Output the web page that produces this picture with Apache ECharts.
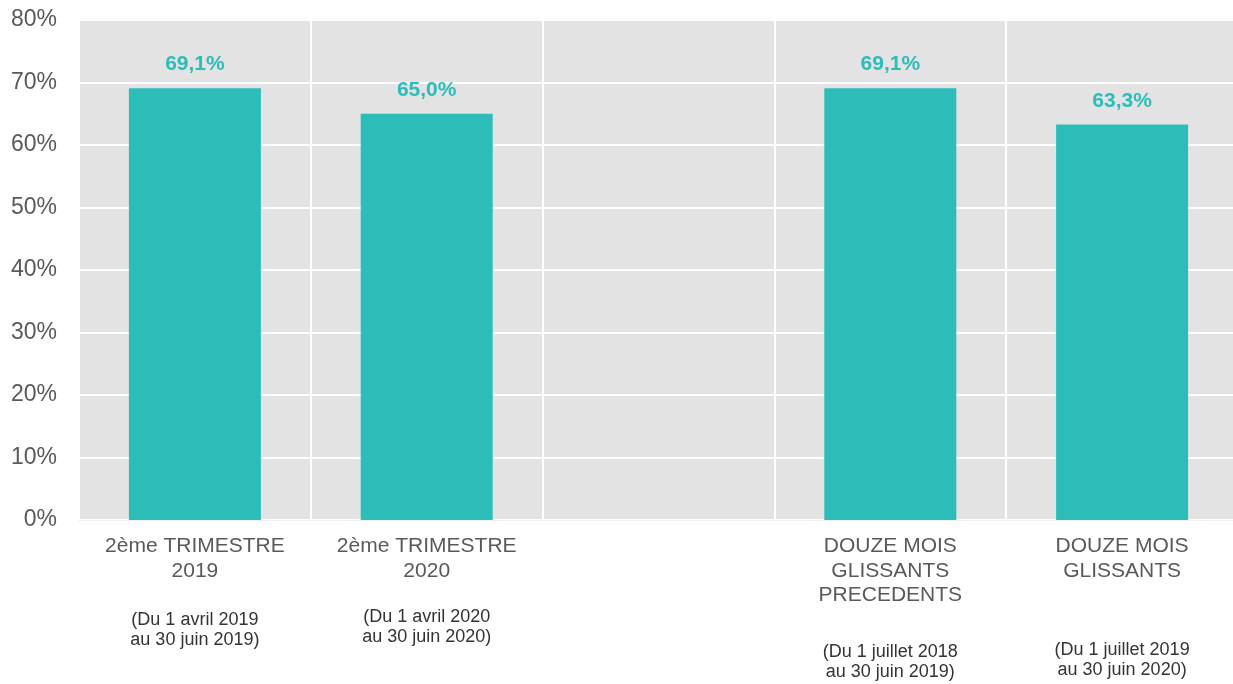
<!DOCTYPE html>
<html>
<head>
<meta charset="utf-8">
<script src="https://cdn.jsdelivr.net/npm/echarts@6/dist/echarts.min.js"></script>
<style>html,body{margin:0;padding:0;background:#fff;overflow:hidden;}#c{width:1233px;height:684px;}</style>
</head>
<body>
<div id="c"></div>
<script>
const categories = ['2ème TRIMESTRE\n2019', '2ème TRIMESTRE\n2020', '', 'DOUZE MOIS\nGLISSANTS\nPRECEDENTS', 'DOUZE MOIS\nGLISSANTS'];
const periods = ['(Du 1 avril 2019\nau 30 juin 2019)', '(Du 1 avril 2020\nau 30 juin 2020)', '', '(Du 1 juillet 2018\nau 30 juin 2019)', '(Du 1 juillet 2019\nau 30 juin 2020)'];
const values = [69.1, 65.0, null, 69.1, 63.3];
const yTicks = [0, 10, 20, 30, 40, 50, 60, 70, 80];

const gapHeights = [27, 24, 0, 35, 57];
const rich = {
  a: {fontSize: 21, lineHeight: 24.5, color: '#595959', fontFamily: 'Liberation Sans'},
  b: {fontSize: 18, lineHeight: 20, color: '#333333', fontFamily: 'Liberation Sans'}
};
gapHeights.forEach((h, i) => { rich['g' + i] = {fontSize: 1, lineHeight: Math.max(h, 1), height: Math.max(h, 1)}; });

const chart = echarts.init(document.getElementById('c'), null, {renderer: 'canvas'});
chart.setOption({
  animation: false,
  grid: {left: 79, width: 1159, top: 20, bottom: 164, show: true, backgroundColor: '#e3e3e3', borderWidth: 0, containLabel: false, outerBoundsMode: 'none'},
  xAxis: {
    type: 'category',
    data: categories,
    axisTick: {show: false},
    axisLine: {show: true, lineStyle: {color: '#eeeeee', width: 1}},
    splitLine: {show: true, interval: 0, lineStyle: {color: '#ffffff', width: 2}},
    axisLabel: {
      interval: 0,
      margin: 14,
      hideOverlap: false,
      formatter: function (v, idx) {
        if (!v) return '';
        const t = v.split('\n').map(s => '{a|' + s + '}').join('\n');
        const p = periods[idx].split('\n').map(s => '{b|' + s + '}').join('\n');
        return t + '\n{g' + idx + '| }\n' + p;
      },
      rich: rich
    }
  },
  yAxis: {
    type: 'value',
    min: yTicks[0],
    max: yTicks[yTicks.length - 1],
    interval: 10,
    axisLine: {show: false},
    axisTick: {show: false},
    splitLine: {show: true, lineStyle: {color: '#ffffff', width: 2}},
    axisLabel: {formatter: '{value}%', fontSize: 23, color: '#595959', margin: 22, fontFamily: 'Liberation Sans'}
  },
  series: [{
    type: 'bar',
    data: values,
    barWidth: 132,
    itemStyle: {color: '#2cbdb9'},
    label: {
      show: true,
      position: 'top',
      distance: 13,
      fontSize: 21,
      fontWeight: 'bold',
      color: '#2cbdb9',
      fontFamily: 'Liberation Sans',
      formatter: p => p.value == null ? '' : p.value.toFixed(1).replace('.', ',') + '%'
    }
  }]
});
</script>
</body>
</html>
